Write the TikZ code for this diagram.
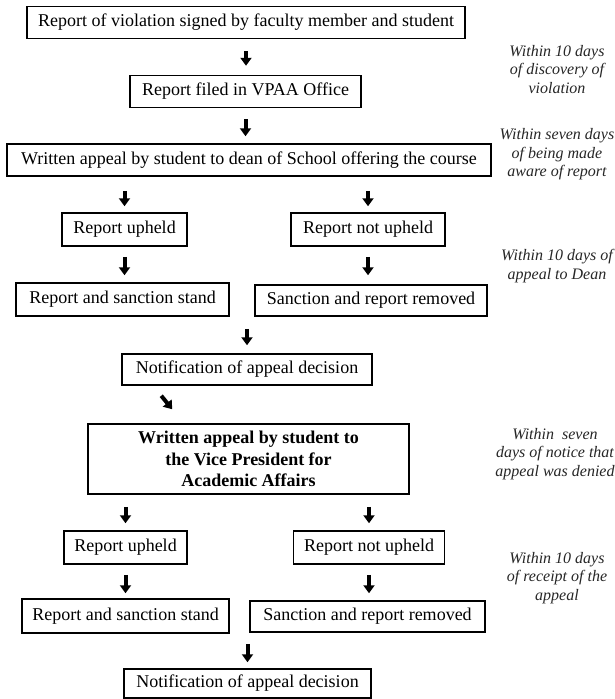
\documentclass[tikz,border=0pt]{standalone}
\usepackage{fontspec}
\setmainfont{Liberation Serif}
\usepackage{tikz}
\usetikzlibrary{calc}
\usetikzlibrary{arrows.meta}

\begin{document}
\begin{tikzpicture}[x=1pt,y=-1pt,
  box/.style={draw,line width=1.5pt,minimum height=32pt,inner sep=0pt,
    font=\fontsize{18}{21.5}\selectfont},
  note/.style={align=center,text=black!85,
    font=\fontsize{16}{18.5}\selectfont\itshape},
  blk/.style={line width=4pt,-{Triangle[width=11pt,length=8pt]}}]
  \useasboundingbox (0,0) rectangle (615,699);

  \node [box,minimum width=438pt] (b1) at (246,22.5) {Report of violation signed by faculty member and student};
  \node [box,minimum width=231pt] (b2) at (245.5,91.5) {Report filed in VPAA Office};
  \node [box,minimum width=484pt] (b3) at (249,160) {Written appeal by student to dean of School offering the course};
  \node [box,minimum width=125pt,minimum height=33pt] (u1) at (124.5,229.5) {Report upheld};
  \node [box,minimum width=154pt,minimum height=33pt] (n1) at (368,229.5) {Report not upheld};
  \node [box,minimum width=213pt,minimum height=33pt] (s1) at (122.5,299.5) {Report and sanction stand};
  \node [box,minimum width=232pt,minimum height=31pt] (r1) at (371,300.5) {Sanction and report removed};
  \node [box,minimum width=250pt,minimum height=31pt] (c1) at (247,369.5) {Notification of appeal decision};
  \node [box,minimum width=321pt,minimum height=70pt,align=center,font=\fontsize{18}{21.5}\selectfont\bfseries] (vp) at (248.5,459)
    {Written appeal by student to\\the Vice President for\\Academic Affairs};
  \node [box,minimum width=123pt,minimum height=33pt] (u2) at (125.5,547.5) {Report upheld};
  \node [box,minimum width=151pt,minimum height=33pt] (n2) at (369,547.5) {Report not upheld};
  \node [box,minimum width=207pt,minimum height=34pt] (s2) at (125.5,616) {Report and sanction stand};
  \node [box,minimum width=235pt,minimum height=31pt] (r2) at (367.5,616.5) {Sanction and report removed};
  \node [box,minimum width=247pt,minimum height=29pt] (c2) at (247.5,683.5) {Notification of appeal decision};

  \node [note] (t1) at (557,69.5) {Within 10 days\\of discovery of\\violation};
  \node [note] (t2) at (557,154.5) {Within seven days\\of being made\\aware of report};
  \node [note] (t3) at (557,266) {Within 10 days of\\appeal to Dean};
  \node [note] (t4) at (555,454) {Within\ \ seven\\days of notice that\\appeal was denied};
  \node [note] (t5) at (557,578) {Within 10 days\\of receipt of the\\appeal};

  \draw [blk] ([yshift=-12pt]b1.south) -- ([yshift=9pt]b1.south |- b2.north);
  \draw [blk] ([yshift=-11pt]b2.south) -- ([yshift=7pt]b2.south |- b3.north);
  \draw [blk] ([yshift=-14pt]b3.south -| u1.north) -- ([yshift=6pt]u1.north);
  \draw [blk] ([yshift=-14pt]b3.south -| n1.north) -- ([yshift=6pt]n1.north);
  \draw [blk] ([yshift=-10pt]u1.south) -- ([yshift=7pt]u1.south |- s1.north);
  \draw [blk] ([yshift=-10pt]n1.south) -- ([yshift=9pt]n1.south |- r1.north);
  \draw [blk] ([yshift=-12pt]s1.south -| c1.north) -- ([yshift=8pt]c1.north);
  \draw [blk] ([xshift=40pt,yshift=-10pt]c1.south west) -- ([xshift=85pt,yshift=14pt]vp.north west);
  \draw [blk] ([yshift=-12pt]vp.south -| u2.north) -- ([yshift=7pt]u2.north);
  \draw [blk] ([yshift=-12pt]vp.south -| n2.north) -- ([yshift=7pt]n2.north);
  \draw [blk] ([yshift=-10pt]u2.south) -- ([yshift=5pt]u2.south |- s2.north);
  \draw [blk] ([yshift=-10pt]n2.south) -- ([yshift=7pt]n2.south |- r2.north);
  \draw [blk] ([yshift=-10pt]s2.south -| c2.north) -- ([yshift=6pt]c2.north);
\end{tikzpicture}
\end{document}
